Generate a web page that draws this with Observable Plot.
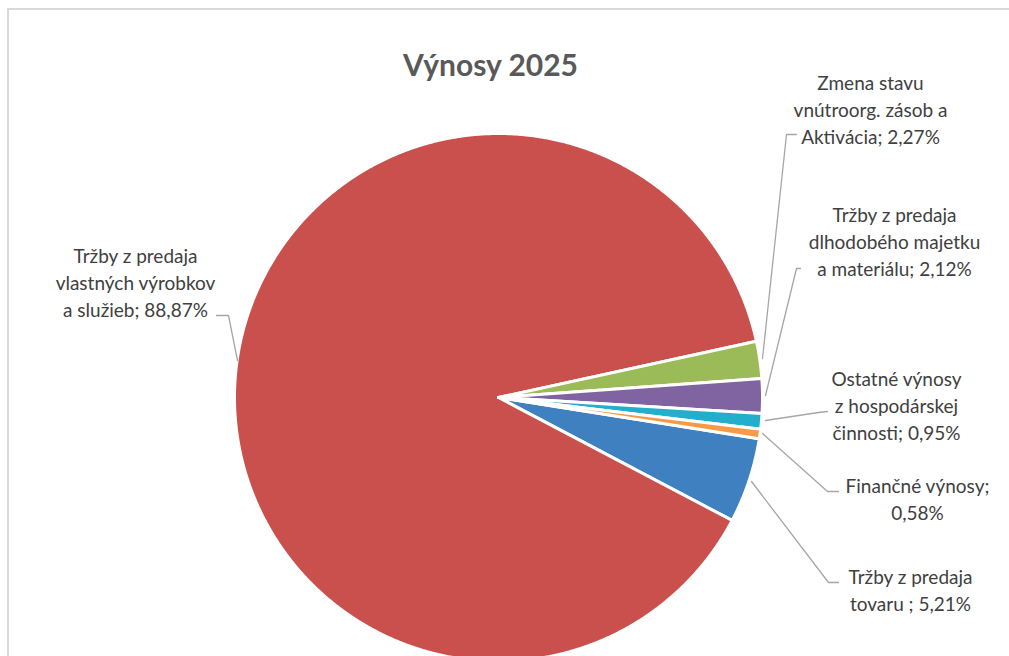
<!DOCTYPE html>
<html>
<head>
<meta charset="utf-8">
<script src="https://cdn.jsdelivr.net/npm/d3@7"></script>
<script src="https://cdn.jsdelivr.net/npm/@observablehq/plot@0.6"></script>
<style>
  html, body { margin: 0; padding: 0; background: #fff; }
  #chart svg { display: block; }
</style>
</head>
<body>
<div id="chart"></div>
<script>
// ---- data ----
const categories = [
  "Tržby z predaja tovaru",
  "Tržby z predaja vlastných výrobkov a služieb",
  "Zmena stavu vnútroorg. zásob a Aktivácia",
  "Tržby z predaja dlhodobého majetku a materiálu",
  "Ostatné výnosy z hospodárskej činnosti",
  "Finančné výnosy"
];
const values = [5.21, 88.87, 2.27, 2.12, 0.95, 0.58];
const colors = ["#3f80c0", "#c9504d", "#9bbb59", "#8064a2", "#23aecb", "#f79a45"];
// label templates ({v} = formatted percentage)
const labelTemplates = [
  "Tržby z predaja\ntovaru ; {v}",
  "Tržby z predaja\nvlastných výrobkov\na služieb; {v}",
  "Zmena stavu\nvnútroorg. zásob a\nAktivácia; {v}",
  "Tržby z predaja\ndlhodobého majetku\na materiálu; {v}",
  "Ostatné výnosy\nz hospodárskej\nčinnosti; {v}",
  "Finančné výnosy;\n{v}"
];
const title = "Výnosy 2025";

// ---- layout ----
const W = 1009, H = 656;
const cx = 498, cy = 397, R = 264;
const startDeg = 99;
const labelX = [910, 135, 870, 894, 896, 917];
const labelY = [588, 281, 108, 240, 404, 497];
const leaders = [
  [[838, 582], [828, 582], [751, 481]],
  [[216, 315], [228, 315], [237, 360]],
  [[796, 134], [786, 134], [762, 358]],
  [[800, 268], [796, 268], [765, 395]],
  [[827, 411], [818, 412], [765, 420]],
  [[838, 491], [827, 491], [762, 433]]
];

const fmt = v => v.toFixed(2).replace(".", ",") + "%";
const s0 = startDeg * Math.PI / 180;
const arcs = d3.pie().sort(null).value(d => d).startAngle(s0).endAngle(s0 + 2 * Math.PI)(values);

const slicePts = arcs.flatMap((a, i) => {
  const pts = [{k: i, x: cx, y: cy}];
  const n = Math.max(2, Math.ceil((a.endAngle - a.startAngle) / (0.25 * Math.PI / 180)));
  for (let j = 0; j <= n; j++) {
    const t = a.startAngle + (a.endAngle - a.startAngle) * j / n;
    pts.push({k: i, x: cx + R * Math.sin(t), y: cy - R * Math.cos(t)});
  }
  pts.push({k: i, x: cx, y: cy});
  return pts;
});

const labelData = categories.map((c, i) => ({
  x: labelX[i], y: labelY[i], text: labelTemplates[i].replace("{v}", fmt(values[i]))
}));
const leaderPts = leaders.flatMap((l, i) => l.map(([x, y]) => ({k: i, x, y})));

const chart = Plot.plot({
  width: W, height: H,
  marginTop: 0, marginRight: 0, marginBottom: 0, marginLeft: 0,
  x: {domain: [0, W], range: [0, W], axis: null},
  y: {domain: [0, H], range: [0, H], axis: null},
  color: {domain: categories, range: colors},
  style: {fontFamily: "Lato, 'Open Sans', sans-serif", background: "#fff", overflow: "visible"},
  marks: [
    Plot.ruleY([8.5], {x1: 7, x2: W, stroke: "#d9d9d9", strokeWidth: 2}),
    Plot.ruleX([7.5], {y1: 8, y2: H, stroke: "#d9d9d9", strokeWidth: 2}),
    Plot.line(slicePts, {x: "x", y: "y", z: "k", fill: d => categories[d.k], stroke: "white", strokeWidth: 3, strokeLinejoin: "round", curve: "linear"}),
    Plot.line(leaderPts, {x: "x", y: "y", z: "k", stroke: "#a6a6a6", strokeWidth: 1.3}),
    Plot.text(labelData, {x: "x", y: "y", text: "text", fontSize: 19, lineHeight: 27 / 19, fill: "#404040", textAnchor: "middle"}),
    Plot.text([title], {x: () => 490, y: () => 66, text: d => d, fontSize: 30, fontWeight: "bold", fill: "#595959", textAnchor: "middle"})
  ]
});
document.getElementById("chart").appendChild(chart);
</script>
</body>
</html>
